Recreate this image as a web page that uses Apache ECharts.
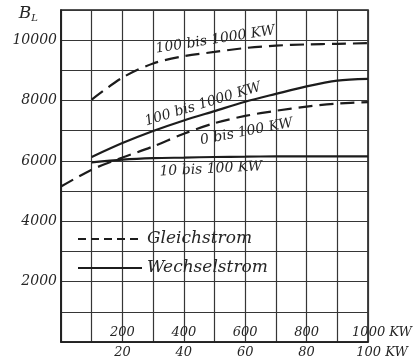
<!DOCTYPE html>
<html>
<head>
<meta charset="utf-8">
<script src="https://cdn.jsdelivr.net/npm/echarts@6/dist/echarts.min.js"></script>
<style>
  html, body { margin: 0; padding: 0; background: #ffffff; }
  #chart { width: 420px; height: 361px; }
</style>
</head>
<body>
<div id="chart"></div>
<script>
// Leistung in KW (upper scale) and B_L values for each curve
const kw = [0, 100, 200, 300, 400, 500, 600, 700, 800, 900, 1000];
const gleich100bis1000 = [null, 8030, 8760, 9230, 9470, 9610, 9740, 9820, 9860, 9880, 9900];
const gleich0bis100 = [5150, 5710, 6110, 6480, 6900, 7250, 7490, 7660, 7800, 7900, 7950];
const wechsel100bis1000 = [null, 6130, 6590, 6990, 7340, 7650, 7960, 8220, 8470, 8660, 8720];
const wechsel10bis100 = [null, 5950, 6040, 6090, 6110, 6130, 6140, 6150, 6150, 6150, 6150];

// Tick labels
const kwTopTicks = [200, 400, 600, 800, 1000];
const kwTopLabels = ['200', '400', '600', '800', '1000 KW'];
const kwBottomTicks = [20, 40, 60, 80, 100];
const kwBottomLabels = ['20', '40', '60', '80', '100 KW'];
const bTicks = [2000, 4000, 6000, 8000, 10000];
const bLabels = ['2000', '4000', '6000', '8000', '10000'];

const curveNames = ['100 bis 1000 KW', '0 bis 100 KW', '100 bis 1000 KW', '10 bis 100 KW'];
const legendNames = ['Gleichstrom', 'Wechselstrom'];

const FONT = '"DejaVu Serif", serif';
const INK = '#1c1c1c';
const TEXT = '#262626';

function tickText(ticks, labels) {
  return function (v) {
    const i = ticks.indexOf(v);
    if (i < 0) return '';
    return i === labels.length - 1 ? '{end|' + labels[i] + '}' : labels[i];
  };
}

// Build series points; one point carries the curve's label
function points(values, labelIndex, label) {
  const out = [];
  values.forEach(function (y, i) {
    if (y === null) return;
    const item = { value: [kw[i], y] };
    if (i === labelIndex) {
      item.symbol = 'circle';
      item.symbolSize = 0;
      item.label = Object.assign({
        show: true,
        fontFamily: FONT,
        fontStyle: 'italic',
        fontSize: 14,
        color: TEXT
      }, label);
    }
    out.push(item);
  });
  return out;
}

const chart = echarts.init(document.getElementById('chart'), null, { renderer: 'canvas' });

const lineBase = {
  type: 'line',
  smooth: 0.3,
  symbol: 'none',
  showSymbol: true,
  animation: false,
  silent: true,
  itemStyle: { color: INK }
};

chart.setOption({
  animation: false,
  backgroundColor: '#ffffff',
  grid: {
    left: 61, right: 52, top: 10, bottom: 19,
    show: true, borderColor: INK, borderWidth: 1.6,
    containLabel: false,
    outerBoundsMode: 'none'
  },
  legend: {
    orient: 'vertical',
    left: 72,
    top: 225,
    itemWidth: 64,
    itemHeight: 18,
    itemGap: 11,
    selectedMode: false,
    itemStyle: { opacity: 0, borderWidth: 0 },
    textStyle: { fontFamily: FONT, fontStyle: 'italic', fontSize: 17, color: TEXT, lineHeight: 18 },
    data: [
      { name: legendNames[0], itemStyle: { opacity: 0 }, lineStyle: { type: [8, 5], width: 2, color: INK } },
      { name: legendNames[1], itemStyle: { opacity: 0 }, lineStyle: { type: 'solid', width: 2, color: INK } }
    ]
  },
  xAxis: [
    {
      type: 'value', min: 0, max: 1000, interval: 100,
      position: 'bottom',
      axisLine: { show: true, lineStyle: { color: INK, width: 1.6 } },
      axisTick: { show: false },
      splitLine: { show: true, lineStyle: { color: '#363636', width: 1.2 } },
      axisLabel: {
        inside: true, margin: 3,
        showMinLabel: true, showMaxLabel: true,
        fontFamily: FONT, fontStyle: 'italic', fontSize: 13, color: TEXT,
        formatter: tickText(kwTopTicks, kwTopLabels),
        rich: { end: { fontFamily: FONT, fontStyle: 'italic', fontSize: 13, color: TEXT, padding: [0, 0, 0, 28] } }
      }
    },
    {
      type: 'value', min: 0, max: 100, interval: 10,
      position: 'bottom',
      axisLine: { show: false },
      axisTick: { show: false },
      splitLine: { show: false },
      axisLabel: {
        margin: 4,
        showMinLabel: true, showMaxLabel: true,
        fontFamily: FONT, fontStyle: 'italic', fontSize: 13, color: TEXT,
        formatter: tickText(kwBottomTicks, kwBottomLabels),
        rich: { end: { fontFamily: FONT, fontStyle: 'italic', fontSize: 13, color: TEXT, padding: [0, 0, 0, 28] } }
      }
    }
  ],
  yAxis: {
    type: 'value', min: 0, max: 11000, interval: 1000,
    name: '{b|B}{s|L}',
    nameLocation: 'end',
    nameGap: -4,
    nameTextStyle: {
      align: 'right', verticalAlign: 'middle', padding: [0, 23, 0, 0],
      rich: {
        b: { fontFamily: FONT, fontStyle: 'italic', fontSize: 17, color: TEXT },
        s: { fontFamily: FONT, fontStyle: 'italic', fontSize: 10, color: TEXT, padding: [9, 0, 0, 0] }
      }
    },
    axisLine: { show: true, lineStyle: { color: INK, width: 1.6 } },
    axisTick: { show: false },
    splitLine: { show: true, lineStyle: { color: '#363636', width: 1.2 } },
    axisLabel: {
      margin: 4,
      fontFamily: FONT, fontStyle: 'italic', fontSize: 14, color: TEXT,
      formatter: function (v) {
        const i = bTicks.indexOf(v);
        return i < 0 ? '' : bLabels[i];
      }
    }
  },
  series: [
    Object.assign({}, lineBase, {
      name: legendNames[0],
      lineStyle: { type: [14, 7], width: 2.2, color: INK },
      data: points(gleich100bis1000, 5, { formatter: curveNames[0], position: 'top', distance: 5, rotate: 9, offset: [2, 0] })
    }),
    Object.assign({}, lineBase, {
      name: legendNames[0],
      lineStyle: { type: [14, 7], width: 2.2, color: INK },
      data: points(gleich0bis100, 6, { formatter: curveNames[1], position: 'bottom', distance: 9, rotate: 11 })
    }),
    Object.assign({}, lineBase, {
      name: legendNames[1],
      lineStyle: { type: 'solid', width: 2.2, color: INK },
      data: points(wechsel100bis1000, 5, { formatter: curveNames[2], position: 'top', distance: 3, rotate: 17, offset: [-10, 0] })
    }),
    Object.assign({}, lineBase, {
      name: legendNames[1],
      lineStyle: { type: 'solid', width: 2.2, color: INK },
      data: points(wechsel10bis100, 5, { formatter: curveNames[3], position: 'bottom', distance: 5, rotate: 3, offset: [-4, 0] })
    })
  ]
});
</script>
</body>
</html>
